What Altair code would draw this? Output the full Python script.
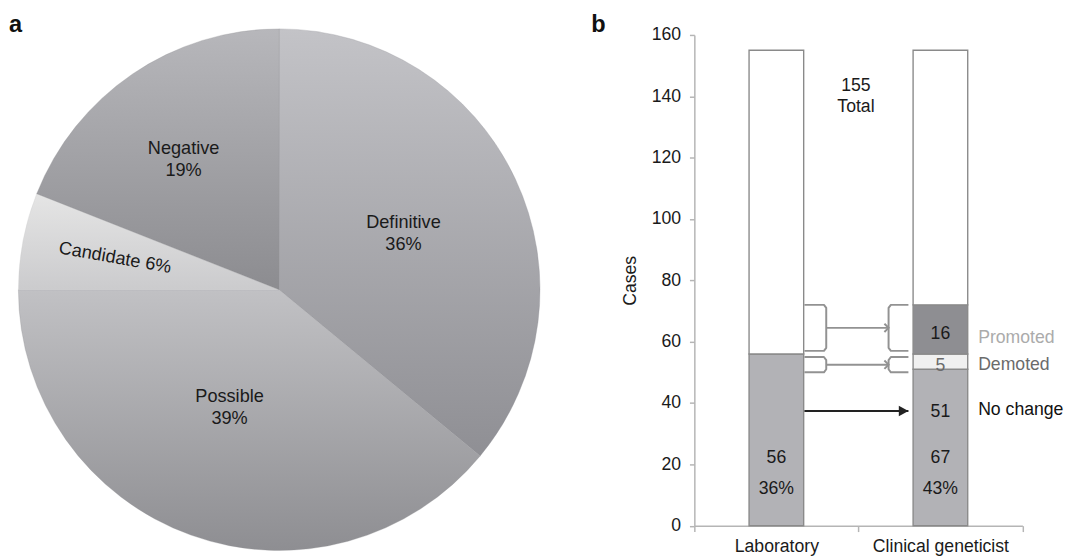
import altair as alt
import pandas as pd

# ---------------- data: panel a ----------------
pie_categories = ["Definitive", "Possible", "Candidate", "Negative"]
pie_percent = [36, 39, 6, 19]

# ---------------- data: panel b ----------------
bar_groups = ["Laboratory", "Clinical geneticist"]
segment_group = ["Laboratory", "Laboratory",
                 "Clinical geneticist", "Clinical geneticist", "Clinical geneticist", "Clinical geneticist"]
segment_name = ["Positive", "Remaining", "No change", "Demoted", "Promoted", "Remaining"]
segment_cases = [56, 99, 51, 5, 16, 83]
total_label = "155\nTotal"

in_bar_group = ["Laboratory", "Clinical geneticist", "Clinical geneticist",
                "Clinical geneticist", "Clinical geneticist"]
in_bar_text = ["56\n36%", "67\n43%", "51", "5", "16"]
in_bar_cases = [22.0, 22.0, 36.9, 52.1, 62.6]

change_labels = ["Promoted", "Demoted", "No change"]
change_label_cases = [61.3, 52.3, 37.7]

bracket_names = ["Promoted", "Demoted"]
bracket_top = [72, 55]
bracket_bottom = [57, 50]
no_change_arrow_cases = 37.4
y_ticks = [0, 20, 40, 60, 80, 100, 120, 140, 160]

FONT = "Liberation Sans"
TXT = "#1a1a1a"

# ---------------- panel a: pie ----------------
pie_df = pd.DataFrame({"category": pie_categories, "percent": pie_percent})
pie_df["end"] = pie_df["percent"].cumsum()
pie_df["start"] = pie_df["end"] - pie_df["percent"]
pie_df["mid"] = (pie_df["start"] + pie_df["end"]) / 2
pie_df["label"] = [f"{c}\n{p}%" for c, p in zip(pie_categories, pie_percent)]
pie_df["label1"] = [f"{c} {p}%" for c, p in zip(pie_categories, pie_percent)]

theta_scale = alt.Scale(domain=[0, 100], range=[0, 6.283185307179586])
CX, CY, R = 276.6, 259.8, 266

slice_grad = {
    "Definitive": ("#c3c3c7", "#8f8f94"),
    "Possible": ("#c1c1c4", "#8e8e92"),
    "Candidate": ("#e5e5e5", "#cbcbcd"),
    "Negative": ("#b7b7bb", "#8c8c90"),
}
label_style = {
    "Definitive": dict(radius=145, dx=-4.5, dy=-7.5, angle=0, field="label"),
    "Possible": dict(radius=117, dx=-11, dy=-2, angle=0, field="label"),
    "Candidate": dict(radius=171, dx=0.5, dy=-1, angle=10, field="label1"),
    "Negative": dict(radius=176, dx=1.4, dy=1, angle=0, field="label"),
}

pie_layers = []
for cat in pie_categories:
    top, bot = slice_grad[cat]
    grad = {"gradient": "linear", "x1": 0, "y1": 0, "x2": 0, "y2": 1,
            "stops": [{"offset": 0, "color": top}, {"offset": 1, "color": bot}]}
    pie_layers.append(
        alt.Chart(pie_df).transform_filter(alt.datum.category == cat)
        .mark_arc(fill=grad, radius=R, stroke=bot, strokeWidth=0.3)
        .encode(theta=alt.Theta("start:Q", scale=theta_scale),
                theta2="end:Q",
                x=alt.value(CX), y=alt.value(CY))
    )
for cat in pie_categories:
    st = label_style[cat]
    pie_layers.append(
        alt.Chart(pie_df).transform_filter(alt.datum.category == cat)
        .mark_text(radius=st["radius"], dx=st["dx"], dy=st["dy"], angle=st["angle"],
                   fontSize=18.5, lineBreak="\n", lineHeight=22.5, color=TXT, font=FONT)
        .encode(theta=alt.Theta("mid:Q", scale=theta_scale, stack=False),
                text=alt.Text(f"{st['field']}:N"),
                x=alt.value(CX), y=alt.value(CY))
    )
pie_layers.append(
    alt.Chart(pd.DataFrame({"panel": ["a"]}))
    .mark_text(fontSize=24, fontWeight="bold", align="left", baseline="top", color="#111", font=FONT)
    .encode(text="panel:N", x=alt.value(1), y=alt.value(-22))
)
panel_a = alt.layer(*pie_layers).properties(width=553, height=500.5)

# ---------------- panel b: bars ----------------
seg_df = pd.DataFrame({"group": segment_group, "segment": segment_name, "Cases": segment_cases})
seg_df["order"] = range(len(seg_df))

x_band = alt.X("group:N", sort=bar_groups,
               scale=alt.Scale(paddingInner=0, paddingOuter=0),
               axis=alt.Axis(title=None, labelAngle=0, labelFontSize=18, labelColor=TXT,
                             labelFont=FONT, tickBand="extent", tickSize=6,
                             tickColor="#b5b5b5", domainColor="#b5b5b5", domainWidth=1.5,
                             tickWidth=1.5, labelPadding=6))
y_main = alt.Y("Cases:Q", stack="zero",
               scale=alt.Scale(domain=[0, 160], nice=False),
               axis=alt.Axis(title="Cases", values=y_ticks, tickSize=5, labelPadding=9,
                             labelFontSize=18, labelColor=TXT, labelFont=FONT,
                             titleFontSize=18, titleFontWeight="normal", titleColor=TXT,
                             titleFont=FONT, titlePadding=12, grid=False,
                             domainColor="#b5b5b5", domainWidth=1.5, tickColor="#b5b5b5",
                             tickWidth=1.5))
y_plain = alt.Y("Cases:Q")

bars = alt.Chart(seg_df).mark_bar(width=alt.RelativeBandSize(0.333), stroke="#8a8a8a",
                                  strokeWidth=1.4).encode(
    x=x_band,
    y=y_main,
    order=alt.Order("order:Q"),
    color=alt.Color("segment:N",
                    scale=alt.Scale(domain=["Positive", "No change", "Demoted", "Promoted", "Remaining"],
                                    range=["#b2b2b6", "#b2b2b6", "#f0f0f0", "#8e8e92", "#ffffff"]),
                    legend=None),
)

inbar_df = pd.DataFrame({"group": in_bar_group, "text": in_bar_text, "Cases": in_bar_cases})
inbar_main = alt.Chart(inbar_df).transform_filter(alt.datum.text != "5").mark_text(
    fontSize=18, lineBreak="\n", lineHeight=32, color=TXT, font=FONT
).encode(x=x_band, y=y_plain, text="text:N")
inbar_demoted = alt.Chart(inbar_df).transform_filter(alt.datum.text == "5").mark_text(
    fontSize=18, color="#6b6b6b", font=FONT
).encode(x=x_band, y=y_plain, text="text:N")

bars_part = alt.layer(bars, inbar_main, inbar_demoted)

# ---------------- panel b: annotations ----------------
q_scale = alt.Scale(domain=[0, 2], nice=False, zero=False)
ANN = dict(left_open=0.671, left_spine=0.804, right_spine=1.184, right_open=1.305,
           label=1.73, total=0.985)
GRAY = "#929292"

rows = []
for name, top, bot in zip(bracket_names, bracket_top, bracket_bottom):
    for side, xo, xs in [("L", ANN["left_open"], ANN["left_spine"]),
                         ("R", ANN["right_open"], ANN["right_spine"])]:
        r = 0.014 if xo < xs else -0.014
        pts = [(xo, top), (xs - r, top), (xs, top - 1), (xs, bot + 1), (xs - r, bot), (xo, bot)]
        for k, (xv, yv) in enumerate(pts):
            rows.append({"id": name + side, "k": k, "xpos": xv, "Cases": yv})
br_df = pd.DataFrame(rows)

brackets = alt.Chart(br_df).mark_line(color=GRAY, strokeWidth=2, strokeJoin="round").encode(
    x=alt.X("xpos:Q", scale=q_scale, axis=None), y=y_plain, detail="id:N", order="k:Q")

arr_df = pd.DataFrame({
    "name": bracket_names,
    "x0": [ANN["left_spine"]] * 2,
    "x1": [ANN["right_spine"]] * 2,
    "Cases": [(t + b) / 2 for t, b in zip(bracket_top, bracket_bottom)],
})
gray_arrows = alt.Chart(arr_df).mark_rule(color=GRAY, strokeWidth=2).encode(
    x=alt.X("x0:Q", scale=q_scale, axis=None), x2="x1:Q", y=y_plain)
gray_heads = alt.Chart(arr_df).mark_point(shape="M-1,-1L0,0L-1,1", filled=False, size=72,
                                          strokeWidth=2, color=GRAY, opacity=1).encode(
    x=alt.X("x1:Q", scale=q_scale, axis=None), y=y_plain)

blk_df = pd.DataFrame({"x0": [ANN["left_open"]], "x1": [ANN["right_open"]],
                       "Cases": [no_change_arrow_cases]})
black_arrow = alt.Chart(blk_df).mark_rule(color="#222222", strokeWidth=2.2).encode(
    x=alt.X("x0:Q", scale=q_scale, axis=None), x2="x1:Q", y=y_plain)
black_head = alt.Chart(blk_df).mark_point(shape="M-1.4,-0.75L0,0L-1.4,0.75Z", filled=True,
                                          size=196, color="#222222", opacity=1).encode(
    x=alt.X("x1:Q", scale=q_scale, axis=None), y=y_plain)

chg_df = pd.DataFrame({"label": change_labels, "Cases": change_label_cases,
                       "xpos": [ANN["label"]] * 3})
chg_colors = {"Promoted": "#ababab", "Demoted": "#6b6b6b", "No change": "#111111"}
chg_layers = [
    alt.Chart(chg_df).transform_filter(alt.datum.label == lab).mark_text(
        align="left", baseline="middle", fontSize=18, color=chg_colors[lab], font=FONT
    ).encode(x=alt.X("xpos:Q", scale=q_scale, axis=None), y=y_plain, text="label:N")
    for lab in change_labels
]

tot_df = pd.DataFrame({"label": [total_label], "Cases": [143.4], "xpos": [ANN["total"]]})
total_text = alt.Chart(tot_df).mark_text(fontSize=18, lineBreak="\n", lineHeight=21.2,
                                         color=TXT, font=FONT).encode(
    x=alt.X("xpos:Q", scale=q_scale, axis=None), y=y_plain, text="label:N")

b_label = alt.Chart(pd.DataFrame({"panel": ["b"]})).mark_text(
    fontSize=24, fontWeight="bold", align="left", baseline="top", color="#111", font=FONT
).encode(text="panel:N", x=alt.value(-105.2), y=alt.value(-22))

annot_part = alt.layer(brackets, gray_arrows, gray_heads, black_arrow, black_head,
                       *chg_layers, total_text, b_label)

panel_b = alt.layer(bars_part, annot_part).resolve_scale(x="independent").properties(
    width=334.6, height=500.5)

chart = alt.hconcat(panel_a, panel_b, spacing=41, padding=0).configure(
    font=FONT, view=alt.ViewConfig(stroke=None, strokeWidth=0))

chart.save("out.html", embed_options={"renderer": "svg", "actions": False})
